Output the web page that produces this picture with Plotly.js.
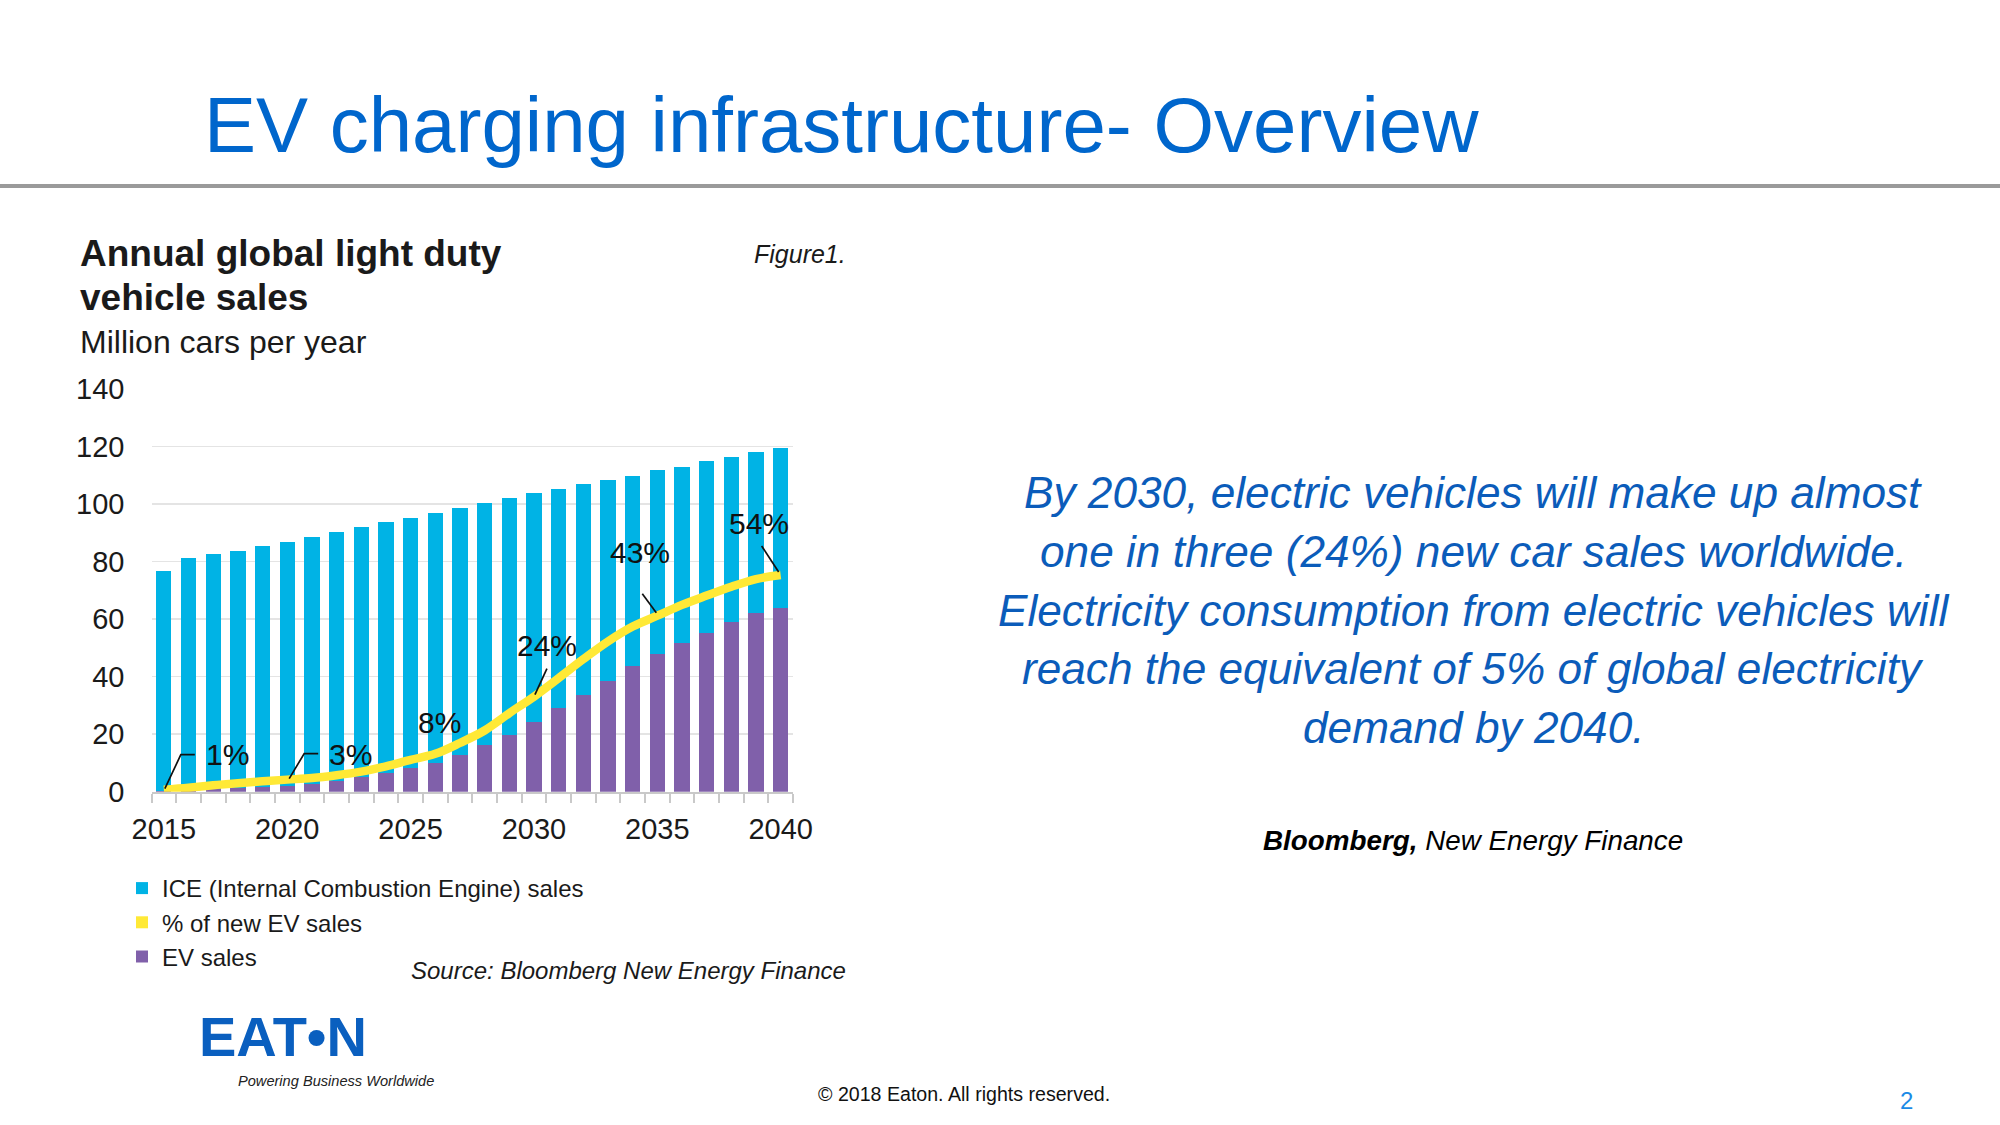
<!DOCTYPE html>
<html>
<head>
<meta charset="utf-8">
<script src="https://cdn.plot.ly/plotly-3.0.1.min.js"></script>
<style>
  html, body { margin: 0; padding: 0; background: #ffffff; }
  #chart { width: 2000px; height: 1125px; }
</style>
</head>
<body>
<div id="chart"></div>
<script>
// ---- data ----
const years = [2015, 2016, 2017, 2018, 2019, 2020, 2021, 2022, 2023, 2024, 2025, 2026, 2027,
               2028, 2029, 2030, 2031, 2032, 2033, 2034, 2035, 2036, 2037, 2038, 2039, 2040];
// EV sales, million cars per year
const evSales = [0.4, 0.7, 1.0, 1.2, 1.6, 2.1, 2.8, 3.8, 5.1, 6.5, 8.1, 10.1, 12.6,
                 16.1, 19.8, 24.2, 29.0, 33.5, 38.5, 43.7, 48.0, 51.6, 55.2, 59.1, 62.0, 64.0];
// ICE sales, million cars per year
const iceSales = [76.4, 80.5, 81.8, 82.6, 83.8, 84.7, 85.7, 86.4, 86.9, 87.1, 87.2, 86.9, 86.1,
                  84.3, 82.2, 79.6, 76.2, 73.4, 69.9, 66.2, 63.7, 61.4, 59.6, 57.1, 56.0, 55.4];
// % of new EV sales
const evShare = [0.5, 1.0, 1.6, 2.1, 2.6, 3.0, 3.4, 4.1, 5.0, 6.3, 7.9, 9.4, 12.1,
                 15.2, 19.5, 23.6, 28.2, 32.9, 37.3, 41.0, 43.7, 46.4, 48.7, 50.9, 52.8, 53.8];
const labelYears = [2015, 2020, 2025, 2030, 2035, 2040];
const labelTexts = ['1%', '3%', '8%', '24%', '43%', '54%'];
const xTickYears = [2015, 2020, 2025, 2030, 2035, 2040];
const seriesNames = ['ICE (Internal Combustion Engine) sales', '% of new EV sales', 'EV sales'];

const bodyText = [
  'By 2030, electric vehicles will make up almost',
  'one in three (24%) new car sales worldwide.',
  'Electricity consumption from electric vehicles will',
  'reach the equivalent of 5% of global electricity',
  'demand by 2040.'
];

// ---- style ----
const W = 2000, H = 1125;
const px = v => v / W;            // pixel -> paper x
const py = v => 1 - v / H;        // pixel -> paper y
const SANS = 'Liberation Sans, Arial, Helvetica, sans-serif';
const C_ICE = '#00b3e5', C_EV = '#8060aa', C_YEL = '#ffe936';
const C_TXT = '#1a1a1a';

// label text offsets from their point (px, y up) and leader paths (px, y up)
const labelShift = [[64, 35], [63, 25], [29, 37], [13, 51], [-17, 63], [-22, 52]];
const leaderPaths = [
  'M1,1 L17,35 L31,35',
  'M2,1 L17,26 L31,26',
  null,
  'M1,2 L13,28',
  'M-1,3 L-15,22',
  'M-2,3 L-19,29'
];

const traces = [
  { type: 'bar', x: years, y: evSales, name: seriesNames[2], marker: { color: C_EV },
    legendrank: 3, hoverinfo: 'skip' },
  { type: 'bar', x: years, y: iceSales, name: seriesNames[0], marker: { color: C_ICE },
    legendrank: 1, hoverinfo: 'skip' },
  { type: 'bar', x: [null], y: [null], name: seriesNames[1], marker: { color: C_YEL },
    legendrank: 2, hoverinfo: 'skip' },
  { type: 'scatter', mode: 'lines', x: years, y: evShare, yaxis: 'y2', showlegend: false,
    line: { color: C_YEL, width: 8.5, shape: 'spline', smoothing: 1 }, hoverinfo: 'skip' }
];

const annotations = [];
const shapes = [
  { type: 'line', xref: 'paper', yref: 'paper', x0: 0, x1: 1, y0: py(186), y1: py(186),
    line: { color: '#9a9a9a', width: 4 } }
];
labelYears.forEach((yr, i) => {
  const val = evShare[years.indexOf(yr)];
  annotations.push({
    xref: 'x', yref: 'y2', x: yr, y: val, text: labelTexts[i], showarrow: false,
    xshift: labelShift[i][0], yshift: labelShift[i][1],
    font: { family: SANS, size: 30, color: '#111' }
  });
  if (leaderPaths[i]) {
    shapes.push({
      type: 'path', xref: 'x', yref: 'y2', xsizemode: 'pixel', ysizemode: 'pixel',
      xanchor: yr, yanchor: val, path: leaderPaths[i],
      line: { color: '#111', width: 1.7 }, layer: 'above'
    });
  }
});

function txt(text, x, y, size, opts) {
  return Object.assign({
    xref: 'paper', yref: 'paper', x: px(x), y: py(y), text: text, showarrow: false,
    xanchor: 'left', yanchor: 'middle', font: { family: SANS, size: size, color: C_TXT }
  }, opts || {});
}

annotations.push(txt('EV charging infrastructure- Overview', 202, 125, 78,
  { font: { family: SANS, size: 78, color: '#0066cc' } }));
annotations.push(txt('<b>Annual global light duty</b>', 78, 254, 37));
annotations.push(txt('<b>vehicle sales</b>', 78, 297, 37));
annotations.push(txt('Million cars per year', 78, 342, 32));
annotations.push(txt('<i>Figure1.</i>', 848, 254, 25, { xanchor: 'right' }));
annotations.push(txt('<i>Source: Bloomberg New Energy Finance</i>', 848, 970, 24, { xanchor: 'right' }));

const bodyY = [492, 551, 610, 668, 727];
bodyText.forEach((t, i) => {
  annotations.push(txt('<i>' + t + '</i>', 1473, bodyY[i], 44.2,
    { xanchor: 'center', font: { family: SANS, size: 44.2, color: '#0b5cba' } }));
});
annotations.push(txt('<b><i>Bloomberg,</i></b><i> New Energy Finance</i>', 1473, 840, 27.8,
  { xanchor: 'center', font: { family: SANS, size: 27.8, color: '#000' } }));

annotations.push(txt('© 2018 Eaton. All rights reserved.', 964, 1094, 19.6,
  { xanchor: 'center', font: { family: SANS, size: 19.6, color: '#111' } }));
annotations.push(txt('2', 1906, 1100, 24,
  { xanchor: 'center', font: { family: SANS, size: 24, color: '#1b8ae6' } }));

annotations.push(txt('<b>EAT•N</b>', 197, 1036, 56,
  { font: { family: SANS, size: 56, color: '#0a5fbf' } }));
annotations.push(txt('<i>Powering Business Worldwide</i>', 336, 1081, 14.6,
  { xanchor: 'center', font: { family: SANS, size: 14.6, color: '#222' } }));

const layout = {
  width: W, height: H, autosize: false,
  margin: { l: 0, r: 0, t: 0, b: 0, pad: 0 },
  paper_bgcolor: '#ffffff', plot_bgcolor: '#ffffff',
  barmode: 'stack', bargap: 0.38,
  showlegend: true,
  legend: {
    x: px(122), y: py(866), xanchor: 'left', yanchor: 'top',
    traceorder: 'normal', font: { family: SANS, size: 24, color: C_TXT },
    bgcolor: 'rgba(0,0,0,0)', itemwidth: 30, tracegroupgap: 0
  },
  xaxis: {
    domain: [px(151.5), px(793)], range: [2014.5, 2040.5],
    tickmode: 'array', tickvals: xTickYears, ticks: '', ticklabelstandoff: 10,
    tickfont: { family: SANS, size: 29, color: C_TXT },
    showline: true, linecolor: '#c9c9c9', linewidth: 2,
    showgrid: false, zeroline: false,
    minor: { tick0: 2014.5, dtick: 1, ticks: 'outside', ticklen: 9, tickwidth: 2,
             tickcolor: '#c9c9c9', showgrid: false }
  },
  yaxis: {
    domain: [py(791.7), py(389)], range: [0, 140], dtick: 20, tick0: 0,
    ticks: '', ticklabelstandoff: 26,
    tickfont: { family: SANS, size: 29, color: C_TXT },
    showgrid: true, gridcolor: '#e4e4e4', gridwidth: 1.5,
    zeroline: false, showline: false
  },
  yaxis2: { overlaying: 'y', range: [0, 100], visible: false, showgrid: false, zeroline: false },
  shapes: shapes,
  annotations: annotations
};

Plotly.newPlot('chart', traces, layout, { staticPlot: true, displayModeBar: false });
</script>
</body>
</html>
